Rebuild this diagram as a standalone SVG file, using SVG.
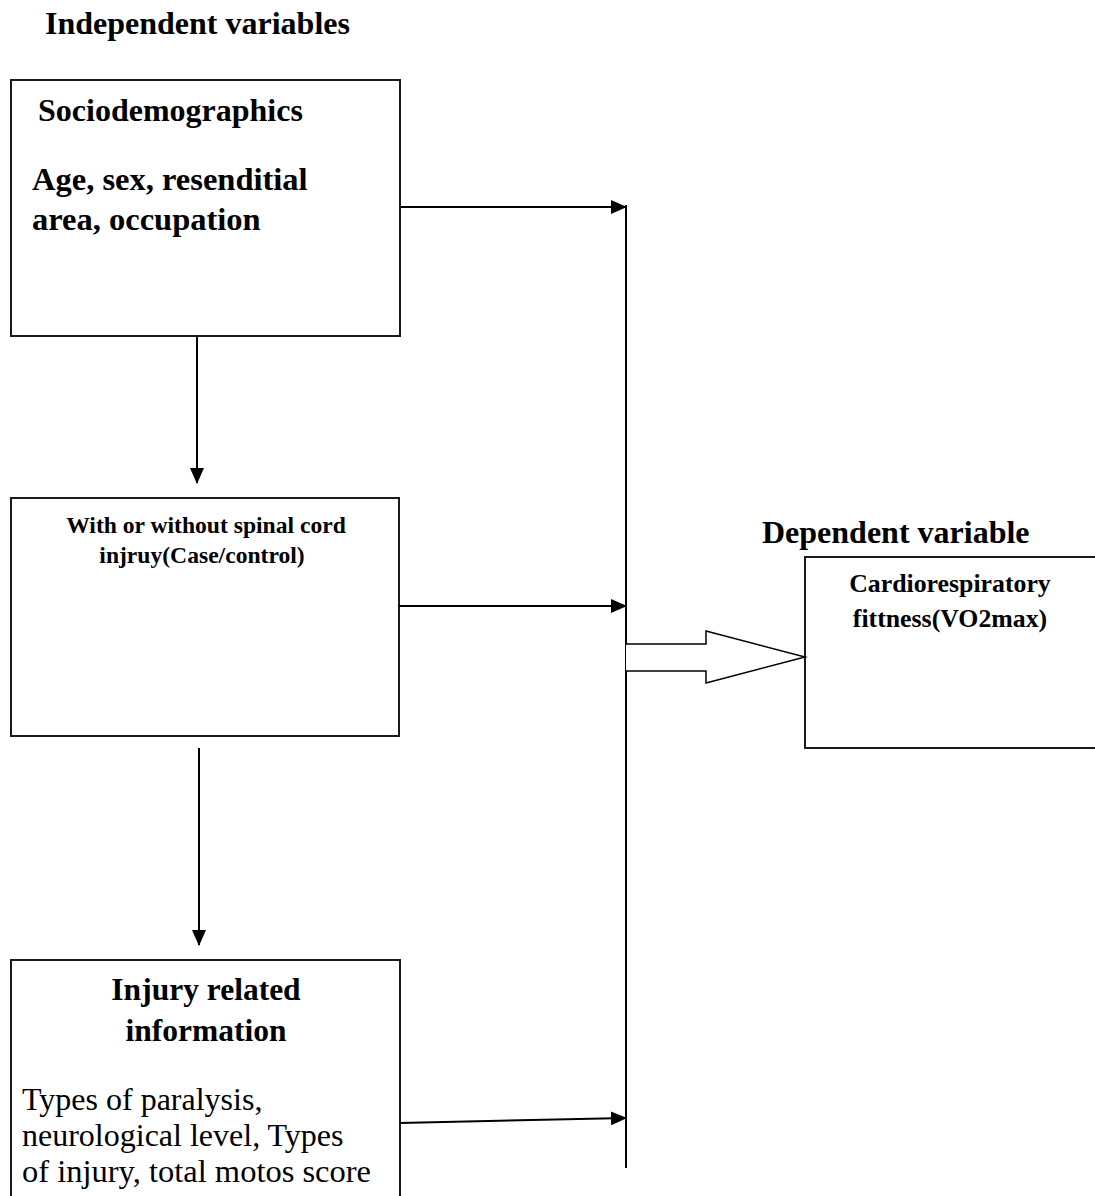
<svg xmlns="http://www.w3.org/2000/svg" width="1095" height="1196" viewBox="0 0 1095 1196">
<style>
.box{fill:#fff;stroke:#1a1a1a;stroke-width:2}
.b{font-family:"Liberation Serif","Times New Roman",serif;font-weight:bold;fill:#000}
.r{font-family:"Liberation Serif","Times New Roman",serif;fill:#000}
.c{stroke:#000;stroke-width:2;fill:none}
</style>
<defs>
<marker id="ah" markerUnits="userSpaceOnUse" markerWidth="16" markerHeight="14" refX="15" refY="7" orient="auto">
<path d="M0,0 L16,7 L0,14 Z" fill="#000"/>
</marker>
</defs>
<text class="b" x="45" y="34" font-size="32">Independent variables</text>
<text class="b" x="762" y="543" font-size="32">Dependent variable</text>
<g id="n-socio">
<rect class="box" x="11" y="80" width="389" height="256"/>
<text class="b" x="38" y="121" font-size="32">Sociodemographics</text>
<text class="b" x="32" y="190" font-size="32.5">Age, sex, resenditial</text>
<text class="b" x="32" y="230" font-size="32.5">area, occupation</text>
</g>
<g id="n-sci">
<rect class="box" x="11" y="498" width="388" height="238"/>
<text class="b" x="206" y="533" font-size="23.6" text-anchor="middle">With or without spinal cord</text>
<text class="b" x="202" y="563" font-size="23.6" text-anchor="middle">injruy(Case/control)</text>
</g>
<g id="n-injury">
<rect class="box" x="11" y="960" width="389" height="250"/>
<text class="b" x="206" y="1000" font-size="31.5" text-anchor="middle">Injury related</text>
<text class="b" x="206" y="1041" font-size="31.5" text-anchor="middle">information</text>
<text class="r" x="22" y="1110" font-size="32">Types of paralysis,</text>
<text class="r" x="22" y="1146" font-size="32">neurological level, Types</text>
<text class="r" x="22" y="1182" font-size="32.5">of injury, total motos score</text>
</g>
<g id="n-crf">
<rect class="box" x="805" y="557" width="300" height="191"/>
<text class="b" x="950" y="592" font-size="25.8" text-anchor="middle">Cardiorespiratory</text>
<text class="b" x="950" y="627" font-size="25.8" text-anchor="middle">fittness(VO2max)</text>
</g>
<g id="connectors">
<line class="c" x1="197" y1="337" x2="197" y2="483" marker-end="url(#ah)"/>
<line class="c" x1="199" y1="748" x2="199" y2="945" marker-end="url(#ah)"/>
<line class="c" x1="400" y1="207" x2="626" y2="207" marker-end="url(#ah)"/>
<line class="c" x1="399" y1="606" x2="626" y2="606" marker-end="url(#ah)"/>
<line class="c" x1="400" y1="1123" x2="626" y2="1118" marker-end="url(#ah)"/>
<line class="c" x1="626" y1="205" x2="626" y2="1168"/>
<path d="M626,644 H706 V631 L805,657 L706,683 V671 H626" fill="#fff" stroke="#000" stroke-width="1.5"/>
</g>
</svg>
